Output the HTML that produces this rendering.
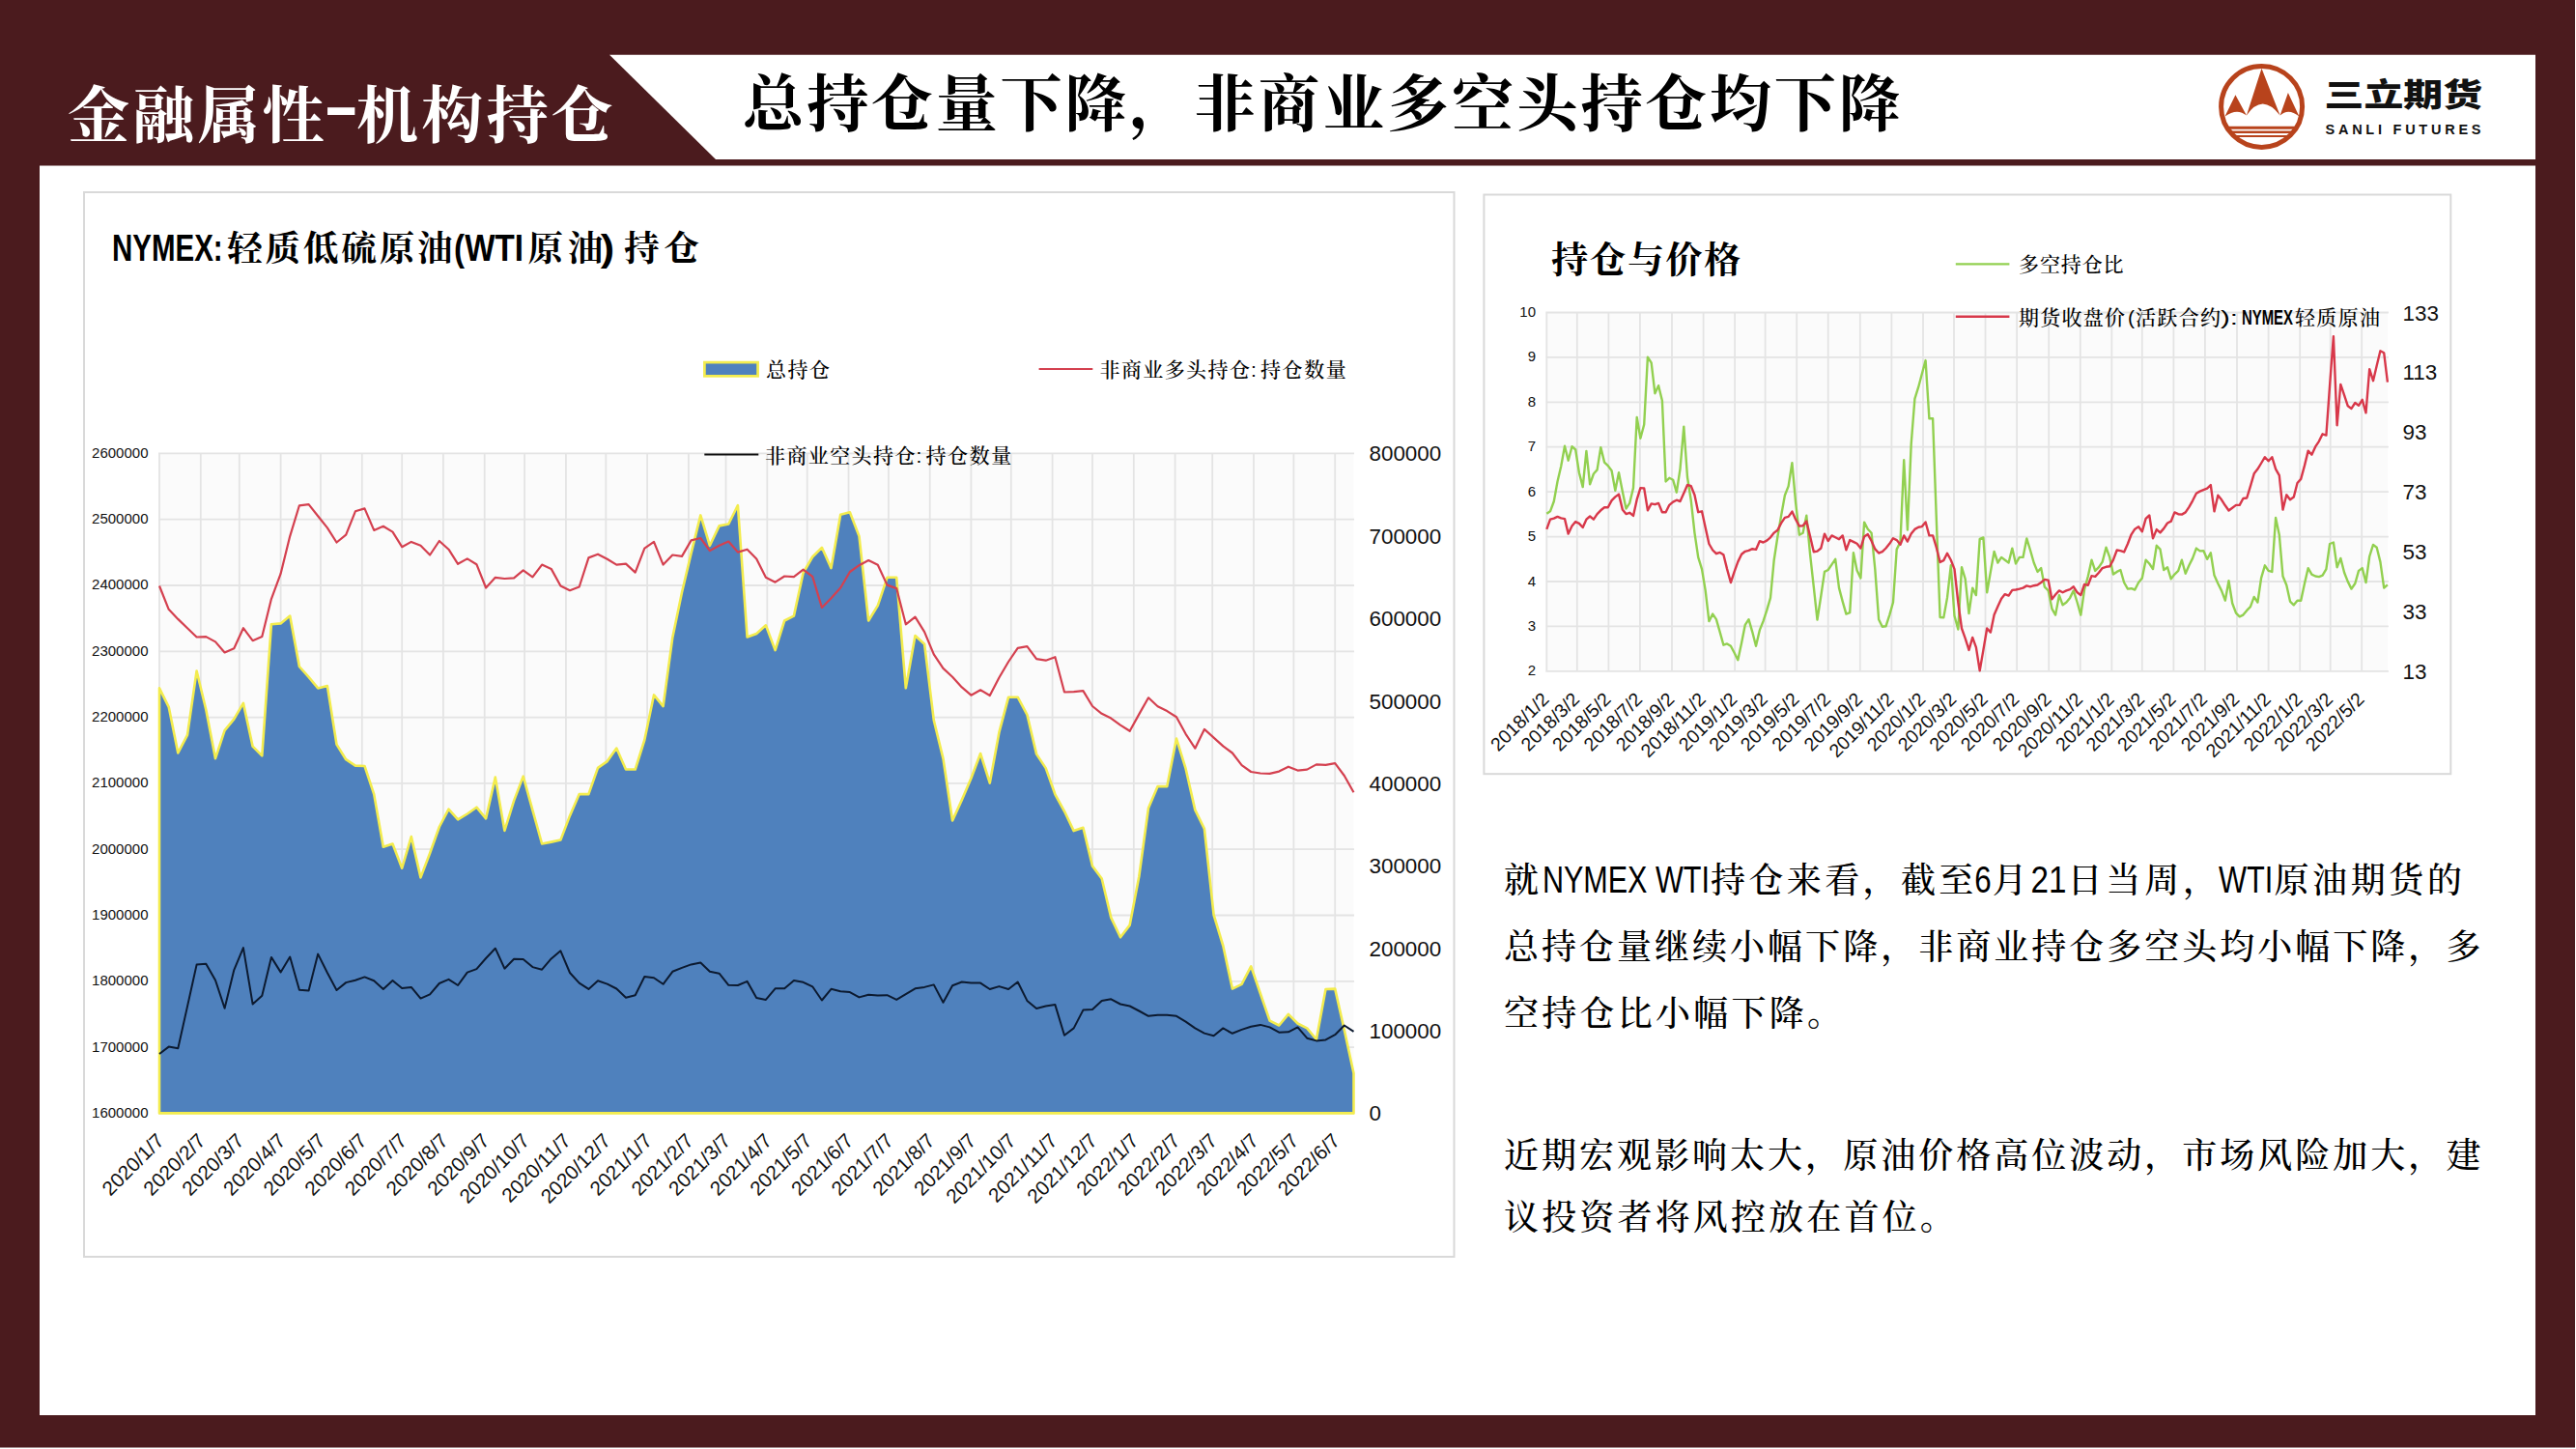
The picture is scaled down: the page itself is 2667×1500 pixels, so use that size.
<!DOCTYPE html>
<html lang="zh-CN"><head><meta charset="utf-8"><title>金融属性-机构持仓</title>
<style>
html,body{margin:0;padding:0;background:#fff;}
body{width:2667px;height:1500px;overflow:hidden;}
svg{display:block;font-family:"Liberation Sans","Noto Serif CJK SC",serif;}
</style></head><body>
<svg width="2667" height="1500" viewBox="0 0 2667 1500">
<rect x="0" y="0" width="2666" height="1498.5" fill="#4b1b1e"/>
<polygon points="631,56.8 2625,56.8 2625,164.9 741,164.9" fill="#fff"/>
<rect x="41" y="171.5" width="2584" height="1293.5" fill="#fff"/>
<!-- titles -->
<text x="70.0" y="141.5" font-size="64" font-weight="700" fill="#fff" textLength="265.8" lengthAdjust="spacing">金融属性</text>
<text x="334.8" y="132.0" font-size="64" font-weight="700" fill="#fff" textLength="37.0" lengthAdjust="spacingAndGlyphs">-</text>
<text x="369.0" y="141.5" font-size="64" font-weight="700" fill="#fff" textLength="265.8" lengthAdjust="spacing">机构持仓</text>
<text x="768.5" y="129.5" font-size="64" font-weight="700" fill="#000" textLength="1199.0" lengthAdjust="spacing">总持仓量下降，非商业多空头持仓均下降</text>
<!-- logo -->
<g fill="#b8431c">
<circle cx="2341.6" cy="110.4" r="42" fill="none" stroke="#b8431c" stroke-width="5"/>
<path d="M2341.5,70.7 L2360.6,119.6 Q2351.7,108.0 2342.7,107.6 Q2333.6,108.0 2325.9,119.6 Z"/>
<path d="M2314.4,98.2 L2325.9,119.6 Q2316.1,111.5 2303.5,120.6 Z"/>
<path d="M2368.9,96.1 L2380.4,120.6 Q2369.2,111.5 2360.6,119.6 Z"/>
<path d="M2306.6,130.8 L2376.9,130.8 L2375.5,133.8 L2308.0,133.8 Z"/>
<path d="M2309.5,135.5 L2374.1,135.5 L2372.4,138.0 L2311.2,138.0 Z"/>
<path d="M2313.0,139.9 L2370.3,139.9 L2367.8,142.0 L2315.4,142.0 Z"/>
</g>
<text x="2406.5" y="109.7" font-size="33" font-weight="900" fill="#111" font-family="&quot;Liberation Sans&quot;,&quot;Noto Sans CJK SC&quot;,sans-serif" textLength="163.5" lengthAdjust="spacingAndGlyphs">三立期货</text>
<text x="2407.5" y="139.3" font-size="14.5" font-weight="700" fill="#111" font-family="&quot;Liberation Sans&quot;,&quot;Noto Sans CJK SC&quot;,sans-serif" textLength="161.0" lengthAdjust="spacing">SANLI FUTURES</text>
<!-- left chart -->
<rect x="87" y="199" width="1418.5" height="1102" fill="#fff" stroke="#d9d9d9" stroke-width="2"/>
<text x="116.0" y="270.0" font-size="39" font-weight="700" fill="#000" textLength="114.7" lengthAdjust="spacingAndGlyphs">NYMEX:</text>
<text x="235.2" y="270.0" font-size="36.5" font-weight="700" fill="#000" textLength="233.4" lengthAdjust="spacing">轻质低硫原油</text>
<text x="470.1" y="270.0" font-size="39" font-weight="700" fill="#000" textLength="71.8" lengthAdjust="spacingAndGlyphs">(WTI</text>
<text x="546.4" y="270.0" font-size="36.5" font-weight="700" fill="#000" textLength="77.8" lengthAdjust="spacing">原油</text>
<text x="621.7" y="270.0" font-size="39" font-weight="700" fill="#000" textLength="14.4" lengthAdjust="spacingAndGlyphs">)</text>
<text x="646.1" y="270.0" font-size="36.5" font-weight="700" fill="#000" textLength="77.8" lengthAdjust="spacing">持仓</text>
<rect x="165.0" y="469.4" width="1236.5" height="683.0000000000001" fill="#fbfbfb"/>
<path d="M165.0,468.4 V1152.4 M207.8,468.4 V1152.4 M247.8,468.4 V1152.4 M290.6,468.4 V1152.4 M332.0,468.4 V1152.4 M374.8,468.4 V1152.4 M416.2,468.4 V1152.4 M458.9,468.4 V1152.4 M501.7,468.4 V1152.4 M543.1,468.4 V1152.4 M585.9,468.4 V1152.4 M627.3,468.4 V1152.4 M670.1,468.4 V1152.4 M712.9,468.4 V1152.4 M751.5,468.4 V1152.4 M794.3,468.4 V1152.4 M835.7,468.4 V1152.4 M878.5,468.4 V1152.4 M919.9,468.4 V1152.4 M962.7,468.4 V1152.4 M1005.4,468.4 V1152.4 M1046.8,468.4 V1152.4 M1089.6,468.4 V1152.4 M1131.0,468.4 V1152.4 M1173.8,468.4 V1152.4 M1216.6,468.4 V1152.4 M1255.2,468.4 V1152.4 M1298.0,468.4 V1152.4 M1339.4,468.4 V1152.4 M1382.2,468.4 V1152.4 M164.0,469.4 H1402.0 M164.0,537.7 H1402.0 M164.0,606.0 H1402.0 M164.0,674.3 H1402.0 M164.0,742.6 H1402.0 M164.0,810.9 H1402.0 M164.0,879.2 H1402.0 M164.0,947.5 H1402.0 M164.0,1015.8 H1402.0 M164.0,1084.1 H1402.0 M164.0,1152.4 H1402.0" stroke="#e4e4e4" stroke-width="1.8" fill="none"/>
<polygon points="165.0,1152.4 165.0,712.4 174.7,731.8 184.3,779.4 194.0,760.9 203.6,694.5 213.3,734.7 223.0,785.2 232.6,756.1 242.3,744.4 251.9,727.9 261.6,772.6 271.3,782.3 280.9,646.3 290.6,645.4 300.2,637.6 309.9,690.0 319.6,700.8 329.2,712.4 338.9,710.1 348.5,770.6 358.2,786.2 367.9,792.6 377.5,793.0 387.2,822.1 396.8,876.8 406.5,873.5 416.2,898.7 425.8,866.1 435.5,908.4 445.1,883.2 454.8,856.0 464.5,837.6 474.1,848.3 483.8,842.5 493.4,835.7 503.1,847.3 512.8,804.6 522.4,859.9 532.1,828.9 541.7,803.6 551.4,838.6 561.1,873.5 570.7,871.6 580.4,869.6 590.0,844.4 599.7,822.1 609.4,822.1 619.0,794.9 628.7,788.1 638.3,774.5 648.0,796.5 657.7,796.5 667.3,766.0 677.0,719.4 686.6,731.1 696.3,659.9 706.0,613.3 715.6,572.6 725.3,533.4 734.9,564.8 744.6,544.4 754.3,542.5 763.9,523.1 773.6,659.5 783.2,656.0 792.9,647.3 802.6,673.1 812.2,642.5 821.9,637.6 831.6,593.0 841.2,576.5 850.9,566.8 860.5,588.1 870.2,532.8 879.9,530.3 889.5,555.1 899.2,642.5 908.8,626.9 918.5,597.8 928.2,597.8 937.8,712.3 947.5,658.0 957.1,666.7 966.8,745.6 976.5,785.4 986.1,849.5 995.8,828.1 1005.4,805.8 1015.1,780.0 1024.8,810.6 1034.4,758.2 1044.1,721.7 1053.7,721.7 1063.4,739.8 1073.1,780.6 1082.7,795.1 1092.4,822.3 1102.0,839.8 1111.7,860.1 1121.4,856.8 1131.0,896.5 1140.7,909.5 1150.3,949.9 1160.0,970.3 1169.7,957.6 1179.3,907.2 1189.0,836.4 1198.6,814.1 1208.3,814.1 1218.0,764.6 1227.6,795.7 1237.3,838.4 1246.9,857.8 1256.6,947.0 1266.3,979.0 1275.9,1023.6 1285.6,1018.8 1295.2,1000.3 1304.9,1028.5 1314.6,1056.6 1324.2,1061.5 1333.9,1049.8 1343.5,1059.5 1353.2,1064.4 1362.9,1076.0 1372.5,1024.0 1382.2,1023.6 1391.8,1066.3 1401.5,1111.0 1401.5,1152.4" fill="#4f81bd" stroke="#f3ec4e" stroke-width="2.6" stroke-linejoin="round"/>
<polyline points="165.0,606.5 174.7,630.8 184.3,640.9 194.0,650.2 203.6,659.5 213.3,659.1 223.0,664.4 232.6,675.5 242.3,671.2 251.9,650.2 261.6,663.2 271.3,659.0 280.9,620.1 290.6,593.9 300.2,555.1 309.9,523.3 319.6,522.1 329.2,534.3 338.9,546.4 348.5,561.5 358.2,553.6 367.9,529.3 377.5,526.4 387.2,548.9 396.8,544.8 406.5,550.6 416.2,566.2 425.8,560.9 435.5,564.8 445.1,574.5 454.8,560.0 464.5,568.7 474.1,583.8 483.8,578.4 493.4,584.2 503.1,608.5 512.8,597.8 522.4,599.0 532.1,598.4 541.7,590.4 551.4,597.4 561.1,584.6 570.7,588.9 580.4,606.5 590.0,611.2 599.7,607.5 609.4,577.4 619.0,573.7 628.7,578.8 638.3,584.6 648.0,583.6 657.7,592.6 667.3,567.7 677.0,560.9 686.6,584.6 696.3,574.5 706.0,575.9 715.6,559.4 725.3,557.0 734.9,570.1 744.6,564.8 754.3,560.5 763.9,571.6 773.6,568.7 783.2,578.4 792.9,597.8 802.6,602.7 812.2,596.5 821.9,597.2 831.6,589.7 841.2,596.8 850.9,628.9 860.5,619.2 870.2,608.5 879.9,592.0 889.5,585.2 899.2,580.0 908.8,584.8 918.5,605.6 928.2,609.1 937.8,646.3 947.5,638.6 957.1,654.1 966.8,677.4 976.5,691.9 986.1,700.7 995.8,711.4 1005.4,719.7 1015.1,714.3 1024.8,720.0 1034.4,701.5 1044.1,685.0 1053.7,670.9 1063.4,669.1 1073.1,682.1 1082.7,683.7 1092.4,680.2 1102.0,716.5 1111.7,716.1 1121.4,715.1 1131.0,731.0 1140.7,738.8 1150.3,743.6 1160.0,750.6 1169.7,756.8 1179.3,739.4 1189.0,722.3 1198.6,731.2 1208.3,736.1 1218.0,742.3 1227.6,759.8 1237.3,774.7 1246.9,754.9 1256.6,763.6 1266.3,772.4 1275.9,779.5 1285.6,792.2 1295.2,799.0 1304.9,800.5 1314.6,800.9 1324.2,798.6 1333.9,793.7 1343.5,797.6 1353.2,796.6 1362.9,791.4 1372.5,791.8 1382.2,790.2 1391.8,803.0 1401.5,820.3" fill="none" stroke="#d4404f" stroke-width="2.2" stroke-linejoin="round"/>
<polyline points="165.0,1091.0 174.7,1083.6 184.3,1085.2 194.0,1041.9 203.6,998.6 213.3,997.8 223.0,1014.7 232.6,1043.8 242.3,1004.1 251.9,981.1 261.6,1039.4 271.3,1030.8 280.9,990.9 290.6,1006.4 300.2,990.5 309.9,1024.8 319.6,1025.4 329.2,987.6 338.9,1007.0 348.5,1025.0 358.2,1017.1 367.9,1014.7 377.5,1011.4 387.2,1015.3 396.8,1023.9 406.5,1015.1 416.2,1023.1 425.8,1021.9 435.5,1033.6 445.1,1029.3 454.8,1018.0 464.5,1013.8 474.1,1020.0 483.8,1006.6 493.4,1003.1 503.1,992.0 512.8,981.7 522.4,1002.7 532.1,992.8 541.7,993.0 551.4,1001.1 561.1,1003.7 570.7,992.4 580.4,984.3 590.0,1007.0 599.7,1017.6 609.4,1023.9 619.0,1015.3 628.7,1018.6 638.3,1023.5 648.0,1032.8 657.7,1030.3 667.3,1011.0 677.0,1012.2 686.6,1018.8 696.3,1005.8 706.0,1001.9 715.6,998.4 725.3,996.5 734.9,1005.8 744.6,1007.7 754.3,1019.8 763.9,1020.0 773.6,1015.9 783.2,1033.0 792.9,1034.9 802.6,1023.3 812.2,1023.3 821.9,1015.1 831.6,1016.8 841.2,1021.3 850.9,1035.5 860.5,1023.8 870.2,1026.2 879.9,1027.1 889.5,1032.4 899.2,1029.7 908.8,1030.6 918.5,1030.2 928.2,1034.9 937.8,1029.1 947.5,1023.3 957.1,1021.9 966.8,1019.4 976.5,1037.8 986.1,1020.3 995.8,1016.5 1005.4,1017.6 1015.1,1017.6 1024.8,1024.0 1034.4,1021.1 1044.1,1024.0 1053.7,1016.5 1063.4,1035.9 1073.1,1044.0 1082.7,1041.5 1092.4,1040.1 1102.0,1071.8 1111.7,1064.4 1121.4,1045.6 1131.0,1045.0 1140.7,1035.9 1150.3,1034.3 1160.0,1039.5 1169.7,1041.5 1179.3,1046.5 1189.0,1051.8 1198.6,1050.8 1208.3,1050.8 1218.0,1051.8 1227.6,1057.6 1237.3,1064.4 1246.9,1069.6 1256.6,1072.2 1266.3,1064.4 1275.9,1069.8 1285.6,1065.9 1295.2,1062.8 1304.9,1060.9 1314.6,1063.4 1324.2,1068.7 1333.9,1068.3 1343.5,1063.4 1353.2,1074.7 1362.9,1077.4 1372.5,1076.4 1382.2,1071.2 1391.8,1061.5 1401.5,1067.9" fill="none" stroke="#0c1a30" stroke-width="2" stroke-linejoin="round"/>
<g font-family="&quot;Liberation Sans&quot;,&quot;Noto Sans CJK SC&quot;,sans-serif" fill="#111">
<text x="153.5" y="473.8" font-size="15" font-weight="400" fill="#111" text-anchor="end">2600000</text>
<text x="153.5" y="542.1" font-size="15" font-weight="400" fill="#111" text-anchor="end">2500000</text>
<text x="153.5" y="610.4" font-size="15" font-weight="400" fill="#111" text-anchor="end">2400000</text>
<text x="153.5" y="678.7" font-size="15" font-weight="400" fill="#111" text-anchor="end">2300000</text>
<text x="153.5" y="747.0" font-size="15" font-weight="400" fill="#111" text-anchor="end">2200000</text>
<text x="153.5" y="815.3" font-size="15" font-weight="400" fill="#111" text-anchor="end">2100000</text>
<text x="153.5" y="883.6" font-size="15" font-weight="400" fill="#111" text-anchor="end">2000000</text>
<text x="153.5" y="951.9" font-size="15" font-weight="400" fill="#111" text-anchor="end">1900000</text>
<text x="153.5" y="1020.2" font-size="15" font-weight="400" fill="#111" text-anchor="end">1800000</text>
<text x="153.5" y="1088.5" font-size="15" font-weight="400" fill="#111" text-anchor="end">1700000</text>
<text x="153.5" y="1156.8" font-size="15" font-weight="400" fill="#111" text-anchor="end">1600000</text>
<text x="1417.5" y="477.4" font-size="22.4" font-weight="400" fill="#111">800000</text>
<text x="1417.5" y="562.8" font-size="22.4" font-weight="400" fill="#111">700000</text>
<text x="1417.5" y="648.1" font-size="22.4" font-weight="400" fill="#111">600000</text>
<text x="1417.5" y="733.5" font-size="22.4" font-weight="400" fill="#111">500000</text>
<text x="1417.5" y="818.9" font-size="22.4" font-weight="400" fill="#111">400000</text>
<text x="1417.5" y="904.3" font-size="22.4" font-weight="400" fill="#111">300000</text>
<text x="1417.5" y="989.7" font-size="22.4" font-weight="400" fill="#111">200000</text>
<text x="1417.5" y="1075.0" font-size="22.4" font-weight="400" fill="#111">100000</text>
<text x="1417.5" y="1160.4" font-size="22.4" font-weight="400" fill="#111">0</text>
<text x="171.2" y="1182.0" font-size="20.7" font-weight="400" fill="#111" text-anchor="end" transform="rotate(-45 171.2 1182.0)">2020/1/7</text>
<text x="214.0" y="1182.0" font-size="20.7" font-weight="400" fill="#111" text-anchor="end" transform="rotate(-45 214.0 1182.0)">2020/2/7</text>
<text x="254.0" y="1182.0" font-size="20.7" font-weight="400" fill="#111" text-anchor="end" transform="rotate(-45 254.0 1182.0)">2020/3/7</text>
<text x="296.8" y="1182.0" font-size="20.7" font-weight="400" fill="#111" text-anchor="end" transform="rotate(-45 296.8 1182.0)">2020/4/7</text>
<text x="338.2" y="1182.0" font-size="20.7" font-weight="400" fill="#111" text-anchor="end" transform="rotate(-45 338.2 1182.0)">2020/5/7</text>
<text x="381.0" y="1182.0" font-size="20.7" font-weight="400" fill="#111" text-anchor="end" transform="rotate(-45 381.0 1182.0)">2020/6/7</text>
<text x="422.4" y="1182.0" font-size="20.7" font-weight="400" fill="#111" text-anchor="end" transform="rotate(-45 422.4 1182.0)">2020/7/7</text>
<text x="465.1" y="1182.0" font-size="20.7" font-weight="400" fill="#111" text-anchor="end" transform="rotate(-45 465.1 1182.0)">2020/8/7</text>
<text x="507.9" y="1182.0" font-size="20.7" font-weight="400" fill="#111" text-anchor="end" transform="rotate(-45 507.9 1182.0)">2020/9/7</text>
<text x="549.3" y="1182.0" font-size="20.7" font-weight="400" fill="#111" text-anchor="end" transform="rotate(-45 549.3 1182.0)">2020/10/7</text>
<text x="592.1" y="1182.0" font-size="20.7" font-weight="400" fill="#111" text-anchor="end" transform="rotate(-45 592.1 1182.0)">2020/11/7</text>
<text x="633.5" y="1182.0" font-size="20.7" font-weight="400" fill="#111" text-anchor="end" transform="rotate(-45 633.5 1182.0)">2020/12/7</text>
<text x="676.3" y="1182.0" font-size="20.7" font-weight="400" fill="#111" text-anchor="end" transform="rotate(-45 676.3 1182.0)">2021/1/7</text>
<text x="719.1" y="1182.0" font-size="20.7" font-weight="400" fill="#111" text-anchor="end" transform="rotate(-45 719.1 1182.0)">2021/2/7</text>
<text x="757.7" y="1182.0" font-size="20.7" font-weight="400" fill="#111" text-anchor="end" transform="rotate(-45 757.7 1182.0)">2021/3/7</text>
<text x="800.5" y="1182.0" font-size="20.7" font-weight="400" fill="#111" text-anchor="end" transform="rotate(-45 800.5 1182.0)">2021/4/7</text>
<text x="841.9" y="1182.0" font-size="20.7" font-weight="400" fill="#111" text-anchor="end" transform="rotate(-45 841.9 1182.0)">2021/5/7</text>
<text x="884.7" y="1182.0" font-size="20.7" font-weight="400" fill="#111" text-anchor="end" transform="rotate(-45 884.7 1182.0)">2021/6/7</text>
<text x="926.1" y="1182.0" font-size="20.7" font-weight="400" fill="#111" text-anchor="end" transform="rotate(-45 926.1 1182.0)">2021/7/7</text>
<text x="968.9" y="1182.0" font-size="20.7" font-weight="400" fill="#111" text-anchor="end" transform="rotate(-45 968.9 1182.0)">2021/8/7</text>
<text x="1011.6" y="1182.0" font-size="20.7" font-weight="400" fill="#111" text-anchor="end" transform="rotate(-45 1011.6 1182.0)">2021/9/7</text>
<text x="1053.0" y="1182.0" font-size="20.7" font-weight="400" fill="#111" text-anchor="end" transform="rotate(-45 1053.0 1182.0)">2021/10/7</text>
<text x="1095.8" y="1182.0" font-size="20.7" font-weight="400" fill="#111" text-anchor="end" transform="rotate(-45 1095.8 1182.0)">2021/11/7</text>
<text x="1137.2" y="1182.0" font-size="20.7" font-weight="400" fill="#111" text-anchor="end" transform="rotate(-45 1137.2 1182.0)">2021/12/7</text>
<text x="1180.0" y="1182.0" font-size="20.7" font-weight="400" fill="#111" text-anchor="end" transform="rotate(-45 1180.0 1182.0)">2022/1/7</text>
<text x="1222.8" y="1182.0" font-size="20.7" font-weight="400" fill="#111" text-anchor="end" transform="rotate(-45 1222.8 1182.0)">2022/2/7</text>
<text x="1261.4" y="1182.0" font-size="20.7" font-weight="400" fill="#111" text-anchor="end" transform="rotate(-45 1261.4 1182.0)">2022/3/7</text>
<text x="1304.2" y="1182.0" font-size="20.7" font-weight="400" fill="#111" text-anchor="end" transform="rotate(-45 1304.2 1182.0)">2022/4/7</text>
<text x="1345.6" y="1182.0" font-size="20.7" font-weight="400" fill="#111" text-anchor="end" transform="rotate(-45 1345.6 1182.0)">2022/5/7</text>
<text x="1388.4" y="1182.0" font-size="20.7" font-weight="400" fill="#111" text-anchor="end" transform="rotate(-45 1388.4 1182.0)">2022/6/7</text>
</g>
<rect x="729.4" y="375.1" width="55.2" height="14.2" fill="#4f81bd" stroke="#f3ec4e" stroke-width="2.7"/>
<text x="793.0" y="390.0" font-size="21" font-weight="500" fill="#000" textLength="66.0" lengthAdjust="spacing">总持仓</text>
<path d="M1075.6,382 H1131.3" stroke="#d4404f" stroke-width="2"/>
<text x="1138.5" y="390.0" font-size="21" font-weight="500" fill="#000" textLength="155.4" lengthAdjust="spacing">非商业多头持仓</text>
<text x="1294.9" y="390.0" font-size="21" font-weight="400" fill="#000">:</text>
<text x="1305.0" y="390.0" font-size="21" font-weight="500" fill="#000" textLength="88.8" lengthAdjust="spacing">持仓数量</text>
<path d="M729.3,470.6 H785.3" stroke="#111" stroke-width="2"/>
<text x="792.0" y="479.0" font-size="21" font-weight="500" fill="#000" textLength="155.4" lengthAdjust="spacing">非商业空头持仓</text>
<text x="948.4" y="479.0" font-size="21" font-weight="400" fill="#000">:</text>
<text x="958.5" y="479.0" font-size="21" font-weight="500" fill="#000" textLength="88.8" lengthAdjust="spacing">持仓数量</text>
<!-- right chart -->
<rect x="1536.4" y="201.5" width="1000.9" height="599.7" fill="#fff" stroke="#d9d9d9" stroke-width="2"/>
<text x="1606.0" y="282.0" font-size="38" font-weight="700" fill="#000" textLength="196.0" lengthAdjust="spacing">持仓与价格</text>
<rect x="1601.3" y="323.5" width="870.6" height="371.3" fill="#fbfbfb"/>
<path d="M1601.3,322.5 V695.8 M1632.8,322.5 V695.8 M1665.4,322.5 V695.8 M1697.9,322.5 V695.8 M1731.0,322.5 V695.8 M1763.6,322.5 V695.8 M1796.1,322.5 V695.8 M1827.6,322.5 V695.8 M1860.2,322.5 V695.8 M1892.7,322.5 V695.8 M1925.8,322.5 V695.8 M1958.4,322.5 V695.8 M1991.0,322.5 V695.8 M2023.0,322.5 V695.8 M2055.5,322.5 V695.8 M2088.1,322.5 V695.8 M2121.2,322.5 V695.8 M2153.8,322.5 V695.8 M2186.3,322.5 V695.8 M2217.8,322.5 V695.8 M2250.4,322.5 V695.8 M2282.9,322.5 V695.8 M2316.0,322.5 V695.8 M2348.6,322.5 V695.8 M2381.2,322.5 V695.8 M2412.7,322.5 V695.8 M2445.2,322.5 V695.8 M1600.3,323.5 H2472.9 M1600.3,369.9 H2472.9 M1600.3,416.3 H2472.9 M1600.3,462.7 H2472.9 M1600.3,509.1 H2472.9 M1600.3,555.6 H2472.9 M1600.3,602.0 H2472.9 M1600.3,648.4 H2472.9 M1600.3,694.8 H2472.9" stroke="#e4e4e4" stroke-width="1.8" fill="none"/>
<polyline points="1601.3,531.7 1605.0,529.3 1608.8,519.0 1612.5,498.5 1616.2,482.7 1620.0,461.8 1623.7,476.7 1627.5,462.2 1631.2,465.5 1634.9,489.2 1638.7,504.1 1642.4,466.9 1646.1,501.3 1649.9,490.5 1653.6,486.4 1657.3,463.1 1661.1,478.6 1664.8,482.1 1668.6,487.3 1672.3,507.8 1676.0,489.2 1679.8,508.8 1683.5,526.5 1687.2,520.9 1691.0,505.1 1694.7,432.0 1698.4,453.8 1702.2,439.5 1705.9,369.6 1709.7,375.6 1713.4,407.2 1717.1,399.2 1720.9,414.7 1724.6,498.5 1728.3,494.8 1732.1,496.7 1735.8,509.7 1739.5,485.5 1743.3,441.7 1747.0,494.0 1750.8,518.3 1754.5,551.8 1758.2,576.9 1762.0,589.1 1765.7,611.4 1769.4,643.1 1773.2,635.6 1776.9,641.2 1780.7,654.3 1784.4,667.7 1788.1,666.4 1791.9,668.8 1795.6,675.7 1799.3,683.2 1803.1,665.5 1806.8,646.8 1810.5,641.2 1814.3,654.3 1818.0,668.8 1821.8,652.4 1825.5,643.1 1829.2,631.9 1833.0,618.9 1836.7,579.7 1840.4,555.5 1844.2,533.2 1847.9,512.7 1851.6,503.4 1855.4,479.1 1859.1,520.1 1862.9,553.7 1866.6,551.8 1870.3,533.7 1874.1,574.2 1877.8,607.7 1881.5,641.6 1885.3,617.0 1889.0,591.9 1892.7,590.0 1896.5,584.4 1900.2,578.8 1904.0,608.6 1907.7,622.6 1911.4,635.6 1915.2,634.1 1918.9,572.3 1922.6,590.5 1926.4,598.4 1930.1,540.6 1933.8,547.7 1937.6,551.8 1941.3,589.1 1945.1,641.2 1948.8,648.7 1952.5,648.3 1956.3,636.6 1960.0,623.5 1963.7,568.6 1967.5,561.1 1971.2,476.3 1974.9,548.6 1978.7,459.6 1982.4,412.8 1986.2,400.7 1989.9,386.7 1993.6,373.1 1997.4,433.3 2001.1,433.3 2004.8,536.9 2008.6,639.0 2012.3,639.4 2016.0,618.9 2019.8,585.3 2023.5,637.5 2027.3,651.5 2031.0,587.2 2034.7,599.3 2038.5,635.1 2042.2,608.6 2045.9,616.1 2049.7,557.8 2053.4,556.5 2057.2,613.3 2060.9,591.9 2064.6,571.0 2068.4,582.5 2072.1,576.9 2075.8,579.7 2079.6,582.5 2083.3,567.6 2087.0,583.5 2090.8,576.9 2094.5,576.9 2098.3,557.4 2102.0,569.5 2105.7,582.5 2109.5,591.9 2113.2,588.1 2116.9,607.7 2120.7,611.4 2124.4,630.1 2128.1,636.6 2131.9,616.1 2135.6,626.3 2139.4,623.5 2143.1,618.9 2146.8,611.4 2150.6,623.5 2154.3,636.6 2158.0,610.5 2161.8,596.5 2165.5,579.7 2169.2,590.9 2173.0,587.2 2176.7,581.6 2180.5,566.7 2184.2,576.9 2187.9,594.6 2191.7,591.9 2195.4,590.0 2199.1,603.0 2202.9,609.6 2206.6,609.2 2210.3,610.5 2214.1,603.0 2217.8,598.4 2221.6,579.7 2225.3,583.5 2229.0,589.1 2232.8,564.8 2236.5,568.6 2240.2,590.0 2244.0,587.2 2247.7,599.3 2251.4,594.6 2255.2,590.9 2258.9,579.7 2262.7,593.7 2266.4,585.3 2270.1,577.9 2273.9,567.6 2277.6,570.4 2281.3,570.1 2285.1,578.8 2288.8,572.3 2292.5,595.6 2296.3,604.0 2300.0,611.4 2303.8,621.7 2307.5,601.2 2311.2,624.5 2315.0,634.7 2318.7,638.4 2322.4,636.6 2326.2,631.9 2329.9,628.2 2333.7,617.9 2337.4,623.5 2341.1,598.4 2344.9,585.3 2348.6,590.9 2352.3,591.9 2356.1,536.0 2359.8,553.7 2363.5,596.5 2367.3,605.8 2371.0,622.6 2374.8,626.3 2378.5,621.7 2382.2,621.7 2386.0,604.0 2389.7,588.1 2393.4,594.6 2397.2,596.5 2400.9,597.1 2404.6,595.6 2408.4,589.1 2412.1,563.0 2415.9,561.5 2419.6,587.2 2423.3,577.9 2427.1,592.8 2430.8,602.1 2434.5,609.6 2438.3,604.0 2442.0,590.9 2445.7,588.1 2449.5,603.0 2453.2,576.0 2457.0,563.9 2460.7,566.7 2464.4,581.6 2468.2,608.6 2471.9,605.3" fill="none" stroke="#92d050" stroke-width="2.4" stroke-linejoin="round"/>
<polyline points="1601.3,547.9 1605.0,537.7 1608.8,536.7 1612.5,534.9 1616.2,536.4 1620.0,537.1 1623.7,552.6 1627.5,544.6 1631.2,540.1 1634.9,541.9 1638.7,546.0 1642.4,537.7 1646.1,534.5 1649.9,537.7 1653.6,532.1 1657.3,528.3 1661.1,525.2 1664.8,525.2 1668.6,518.1 1672.3,514.4 1676.0,511.6 1679.8,527.4 1683.5,532.1 1687.2,530.8 1691.0,533.9 1694.7,517.2 1698.4,505.1 1702.2,505.4 1705.9,528.3 1709.7,521.4 1713.4,522.2 1717.1,520.9 1720.9,530.2 1724.6,530.2 1728.3,522.8 1732.1,519.6 1735.8,517.7 1739.5,519.0 1743.3,510.6 1747.0,501.9 1750.8,503.2 1754.5,512.5 1758.2,530.2 1762.0,529.3 1765.7,546.2 1769.4,563.0 1773.2,569.5 1776.9,573.2 1780.7,571.9 1784.4,574.2 1788.1,589.1 1791.9,603.0 1795.6,591.9 1799.3,581.6 1803.1,573.8 1806.8,570.8 1810.5,569.9 1814.3,568.2 1818.0,568.9 1821.8,560.2 1825.5,561.5 1829.2,559.6 1833.0,556.3 1836.7,551.6 1840.4,548.8 1844.2,541.4 1847.9,535.8 1851.6,534.9 1855.4,529.6 1859.1,537.7 1862.9,544.6 1866.6,544.2 1870.3,539.5 1874.1,555.4 1877.8,571.2 1881.5,570.6 1885.3,567.5 1889.0,552.6 1892.7,560.0 1896.5,554.4 1900.2,556.3 1904.0,558.2 1907.7,554.4 1911.4,569.3 1915.2,559.1 1918.9,560.9 1922.6,562.8 1926.4,567.5 1930.1,555.4 1933.8,553.1 1937.6,560.0 1941.3,568.4 1945.1,572.5 1948.8,571.2 1952.5,567.5 1956.3,562.8 1960.0,557.2 1963.7,559.1 1967.5,563.7 1971.2,554.4 1974.9,560.6 1978.7,552.6 1982.4,547.9 1986.2,545.7 1989.9,545.1 1993.6,540.5 1997.4,554.4 2001.1,554.4 2004.8,566.7 2008.6,582.0 2012.3,580.1 2016.0,572.7 2019.8,579.7 2023.5,589.1 2027.3,623.5 2031.0,650.5 2034.7,660.8 2038.5,672.9 2042.2,659.9 2045.9,670.1 2049.7,694.3 2053.4,672.9 2057.2,650.5 2060.9,654.6 2064.6,636.6 2068.4,627.8 2072.1,619.8 2075.8,615.1 2079.6,616.6 2083.3,610.9 2087.0,610.5 2090.8,609.6 2094.5,608.6 2098.3,606.4 2102.0,607.3 2105.7,606.2 2109.5,605.5 2113.2,603.0 2116.9,599.9 2120.7,600.6 2124.4,620.4 2128.1,615.5 2131.9,611.4 2135.6,613.3 2139.4,611.4 2143.1,610.1 2146.8,607.3 2150.6,613.3 2154.3,616.1 2158.0,604.9 2161.8,605.8 2165.5,596.1 2169.2,596.9 2173.0,592.8 2176.7,588.1 2180.5,586.8 2184.2,586.3 2187.9,579.7 2191.7,569.5 2195.4,570.1 2199.1,571.4 2202.9,563.0 2206.6,553.3 2210.3,547.7 2214.1,545.3 2217.8,550.3 2221.6,536.9 2225.3,533.5 2229.0,557.4 2232.8,548.1 2236.5,551.4 2240.2,547.1 2244.0,541.5 2247.7,539.7 2251.4,530.4 2255.2,532.2 2258.9,532.6 2262.7,530.4 2266.4,524.8 2270.1,518.3 2273.9,510.8 2277.6,508.6 2281.3,507.1 2285.1,505.6 2288.8,502.0 2292.5,529.4 2296.3,512.7 2300.0,517.3 2303.8,523.3 2307.5,528.5 2311.2,525.7 2315.0,522.9 2318.7,522.9 2322.4,516.0 2326.2,515.5 2329.9,503.4 2333.7,490.3 2337.4,485.6 2341.1,479.5 2344.9,473.2 2348.6,477.3 2352.3,473.2 2356.1,485.6 2359.8,492.2 2363.5,527.6 2367.3,512.3 2371.0,517.3 2374.8,514.5 2378.5,500.0 2382.2,495.9 2386.0,481.9 2389.7,466.6 2393.4,470.7 2397.2,462.4 2400.9,456.8 2404.6,449.3 2408.4,450.6 2412.1,398.9 2415.9,348.1 2419.6,440.3 2423.3,397.9 2427.1,409.1 2430.8,420.3 2434.5,422.9 2438.3,417.0 2442.0,419.8 2445.7,413.8 2449.5,427.3 2453.2,382.1 2457.0,394.2 2460.7,378.4 2464.4,363.3 2468.2,365.3 2471.9,395.6" fill="none" stroke="#d8384a" stroke-width="2.4" stroke-linejoin="round"/>
<text x="1590.0" y="328.0" font-size="15" font-weight="400" fill="#111" text-anchor="end">10</text>
<text x="1590.0" y="374.4" font-size="15" font-weight="400" fill="#111" text-anchor="end">9</text>
<text x="1590.0" y="420.8" font-size="15" font-weight="400" fill="#111" text-anchor="end">8</text>
<text x="1590.0" y="467.2" font-size="15" font-weight="400" fill="#111" text-anchor="end">7</text>
<text x="1590.0" y="513.6" font-size="15" font-weight="400" fill="#111" text-anchor="end">6</text>
<text x="1590.0" y="560.1" font-size="15" font-weight="400" fill="#111" text-anchor="end">5</text>
<text x="1590.0" y="606.5" font-size="15" font-weight="400" fill="#111" text-anchor="end">4</text>
<text x="1590.0" y="652.9" font-size="15" font-weight="400" fill="#111" text-anchor="end">3</text>
<text x="1590.0" y="699.3" font-size="15" font-weight="400" fill="#111" text-anchor="end">2</text>
<text x="2487.5" y="331.5" font-size="22.4" font-weight="400" fill="#111">133</text>
<text x="2487.5" y="393.4" font-size="22.4" font-weight="400" fill="#111">113</text>
<text x="2487.5" y="455.3" font-size="22.4" font-weight="400" fill="#111">93</text>
<text x="2487.5" y="517.1" font-size="22.4" font-weight="400" fill="#111">73</text>
<text x="2487.5" y="579.0" font-size="22.4" font-weight="400" fill="#111">53</text>
<text x="2487.5" y="640.9" font-size="22.4" font-weight="400" fill="#111">33</text>
<text x="2487.5" y="702.8" font-size="22.4" font-weight="400" fill="#111">13</text>
<text x="1604.9" y="725.0" font-size="19.5" font-weight="400" fill="#111" text-anchor="end" transform="rotate(-45 1604.9 725.0)">2018/1/2</text>
<text x="1636.4" y="725.0" font-size="19.5" font-weight="400" fill="#111" text-anchor="end" transform="rotate(-45 1636.4 725.0)">2018/3/2</text>
<text x="1669.0" y="725.0" font-size="19.5" font-weight="400" fill="#111" text-anchor="end" transform="rotate(-45 1669.0 725.0)">2018/5/2</text>
<text x="1701.5" y="725.0" font-size="19.5" font-weight="400" fill="#111" text-anchor="end" transform="rotate(-45 1701.5 725.0)">2018/7/2</text>
<text x="1734.6" y="725.0" font-size="19.5" font-weight="400" fill="#111" text-anchor="end" transform="rotate(-45 1734.6 725.0)">2018/9/2</text>
<text x="1767.2" y="725.0" font-size="19.5" font-weight="400" fill="#111" text-anchor="end" transform="rotate(-45 1767.2 725.0)">2018/11/2</text>
<text x="1799.7" y="725.0" font-size="19.5" font-weight="400" fill="#111" text-anchor="end" transform="rotate(-45 1799.7 725.0)">2019/1/2</text>
<text x="1831.2" y="725.0" font-size="19.5" font-weight="400" fill="#111" text-anchor="end" transform="rotate(-45 1831.2 725.0)">2019/3/2</text>
<text x="1863.8" y="725.0" font-size="19.5" font-weight="400" fill="#111" text-anchor="end" transform="rotate(-45 1863.8 725.0)">2019/5/2</text>
<text x="1896.3" y="725.0" font-size="19.5" font-weight="400" fill="#111" text-anchor="end" transform="rotate(-45 1896.3 725.0)">2019/7/2</text>
<text x="1929.4" y="725.0" font-size="19.5" font-weight="400" fill="#111" text-anchor="end" transform="rotate(-45 1929.4 725.0)">2019/9/2</text>
<text x="1962.0" y="725.0" font-size="19.5" font-weight="400" fill="#111" text-anchor="end" transform="rotate(-45 1962.0 725.0)">2019/11/2</text>
<text x="1994.6" y="725.0" font-size="19.5" font-weight="400" fill="#111" text-anchor="end" transform="rotate(-45 1994.6 725.0)">2020/1/2</text>
<text x="2026.6" y="725.0" font-size="19.5" font-weight="400" fill="#111" text-anchor="end" transform="rotate(-45 2026.6 725.0)">2020/3/2</text>
<text x="2059.1" y="725.0" font-size="19.5" font-weight="400" fill="#111" text-anchor="end" transform="rotate(-45 2059.1 725.0)">2020/5/2</text>
<text x="2091.7" y="725.0" font-size="19.5" font-weight="400" fill="#111" text-anchor="end" transform="rotate(-45 2091.7 725.0)">2020/7/2</text>
<text x="2124.8" y="725.0" font-size="19.5" font-weight="400" fill="#111" text-anchor="end" transform="rotate(-45 2124.8 725.0)">2020/9/2</text>
<text x="2157.4" y="725.0" font-size="19.5" font-weight="400" fill="#111" text-anchor="end" transform="rotate(-45 2157.4 725.0)">2020/11/2</text>
<text x="2189.9" y="725.0" font-size="19.5" font-weight="400" fill="#111" text-anchor="end" transform="rotate(-45 2189.9 725.0)">2021/1/2</text>
<text x="2221.4" y="725.0" font-size="19.5" font-weight="400" fill="#111" text-anchor="end" transform="rotate(-45 2221.4 725.0)">2021/3/2</text>
<text x="2254.0" y="725.0" font-size="19.5" font-weight="400" fill="#111" text-anchor="end" transform="rotate(-45 2254.0 725.0)">2021/5/2</text>
<text x="2286.5" y="725.0" font-size="19.5" font-weight="400" fill="#111" text-anchor="end" transform="rotate(-45 2286.5 725.0)">2021/7/2</text>
<text x="2319.6" y="725.0" font-size="19.5" font-weight="400" fill="#111" text-anchor="end" transform="rotate(-45 2319.6 725.0)">2021/9/2</text>
<text x="2352.2" y="725.0" font-size="19.5" font-weight="400" fill="#111" text-anchor="end" transform="rotate(-45 2352.2 725.0)">2021/11/2</text>
<text x="2384.8" y="725.0" font-size="19.5" font-weight="400" fill="#111" text-anchor="end" transform="rotate(-45 2384.8 725.0)">2022/1/2</text>
<text x="2416.3" y="725.0" font-size="19.5" font-weight="400" fill="#111" text-anchor="end" transform="rotate(-45 2416.3 725.0)">2022/3/2</text>
<text x="2448.8" y="725.0" font-size="19.5" font-weight="400" fill="#111" text-anchor="end" transform="rotate(-45 2448.8 725.0)">2022/5/2</text>
<path d="M2024.8,273.4 H2080.4" stroke="#92d050" stroke-width="2.4"/>
<text x="2090.0" y="281.0" font-size="21" font-weight="500" fill="#000" textLength="108.5" lengthAdjust="spacing">多空持仓比</text>
<path d="M2024.8,327.8 H2080.4" stroke="#d8384a" stroke-width="2.4"/>
<text x="2090.0" y="335.5" font-size="21" font-weight="500" fill="#000" textLength="110.0" lengthAdjust="spacing">期货收盘价</text>
<text x="2203.0" y="335.5" font-size="21" font-weight="400" fill="#000">(</text>
<text x="2211.0" y="335.5" font-size="21" font-weight="500" fill="#000" textLength="88.0" lengthAdjust="spacing">活跃合约</text>
<text x="2299.0" y="335.5" font-size="21" font-weight="400" fill="#000" textLength="18.0" lengthAdjust="spacingAndGlyphs">):</text>
<text x="2321.0" y="335.5" font-size="22" font-weight="700" fill="#000" textLength="53.0" lengthAdjust="spacingAndGlyphs">NYMEX</text>
<text x="2376.0" y="335.5" font-size="21" font-weight="500" fill="#000" textLength="88.0" lengthAdjust="spacing">轻质原油</text>
<!-- paragraph -->
<text x="1557.0" y="924.0" font-size="36" font-weight="500" fill="#000" textLength="38.9" lengthAdjust="spacing">就</text>
<text x="1596.9" y="924.0" font-size="38" font-weight="400" fill="#000" textLength="173.0" lengthAdjust="spacingAndGlyphs">NYMEX WTI</text>
<text x="1771.0" y="924.0" font-size="36" font-weight="500" fill="#000" textLength="272.3" lengthAdjust="spacing">持仓来看，截至</text>
<text x="2044.2" y="924.0" font-size="38" font-weight="400" fill="#000" textLength="17.4" lengthAdjust="spacingAndGlyphs">6</text>
<text x="2062.7" y="924.0" font-size="36" font-weight="500" fill="#000" textLength="38.9" lengthAdjust="spacing">月</text>
<text x="2102.6" y="924.0" font-size="38" font-weight="400" fill="#000" textLength="36.9" lengthAdjust="spacingAndGlyphs">21</text>
<text x="2140.5" y="924.0" font-size="36" font-weight="500" fill="#000" textLength="155.6" lengthAdjust="spacing">日当周，</text>
<text x="2297.1" y="924.0" font-size="38" font-weight="400" fill="#000" textLength="56.3" lengthAdjust="spacingAndGlyphs">WTI</text>
<text x="2354.4" y="924.0" font-size="36" font-weight="500" fill="#000" textLength="194.5" lengthAdjust="spacing">原油期货的</text>
<text x="1557.0" y="993.0" font-size="36" font-weight="500" fill="#000" textLength="1011.4" lengthAdjust="spacing">总持仓量继续小幅下降，非商业持仓多空头均小幅下降，多</text>
<text x="1557.0" y="1062.0" font-size="36" font-weight="500" fill="#000" textLength="350.1" lengthAdjust="spacing">空持仓比小幅下降。</text>
<text x="1557.0" y="1208.5" font-size="36" font-weight="500" fill="#000" textLength="1011.4" lengthAdjust="spacing">近期宏观影响太大，原油价格高位波动，市场风险加大，建</text>
<text x="1557.0" y="1273.0" font-size="36" font-weight="500" fill="#000" textLength="466.8" lengthAdjust="spacing">议投资者将风控放在首位。</text>
</svg></body></html>
